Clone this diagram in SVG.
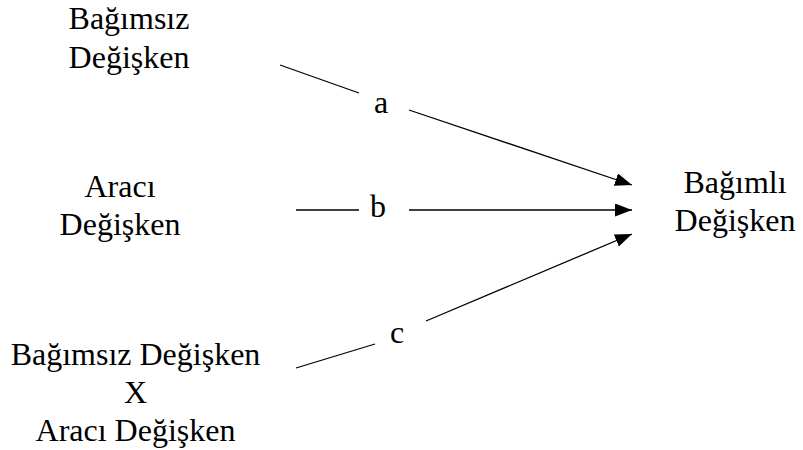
<svg xmlns="http://www.w3.org/2000/svg" width="803" height="450" viewBox="0 0 803 450">
<style>
  text { font-family: "Liberation Serif", "Times New Roman", serif; font-size: 32px; fill: #000; text-anchor: middle; }
  .ln { stroke: #000; stroke-width: 1.3; fill: none; }
</style>
<defs>
  <marker id="ah" markerUnits="userSpaceOnUse" markerWidth="18" markerHeight="14" refX="17" refY="6.5" orient="auto">
    <path d="M0,0 L17,6.5 L0,13 Z" fill="#000"/>
  </marker>
</defs>
<rect width="803" height="450" fill="#fff"/>
<g id="n-bagimsiz">
  <text x="129" y="29">Bağımsız</text>
  <text x="129" y="68">Değişken</text>
</g>
<g id="n-araci">
  <text x="120" y="197">Aracı</text>
  <text x="120" y="235">Değişken</text>
</g>
<g id="n-etkilesim">
  <text x="135.5" y="365">Bağımsız Değişken</text>
  <text x="135.5" y="403">X</text>
  <text x="135.5" y="441">Aracı Değişken</text>
</g>
<g id="n-bagimli">
  <text x="735" y="193">Bağımlı</text>
  <text x="735" y="231">Değişken</text>
</g>
<g id="connectors">
  <line class="ln" x1="280" y1="65" x2="359" y2="93"/>
  <line class="ln" x1="409" y1="110" x2="632" y2="185" marker-end="url(#ah)"/>
  <text x="381" y="113">a</text>
  <line class="ln" x1="296" y1="210" x2="359" y2="210"/>
  <line class="ln" x1="409" y1="210" x2="632" y2="210" marker-end="url(#ah)"/>
  <text x="378" y="217">b</text>
  <line class="ln" x1="296" y1="368" x2="375" y2="344"/>
  <line class="ln" x1="426" y1="321" x2="632" y2="234" marker-end="url(#ah)"/>
  <text x="397" y="343">c</text>
</g>
</svg>
